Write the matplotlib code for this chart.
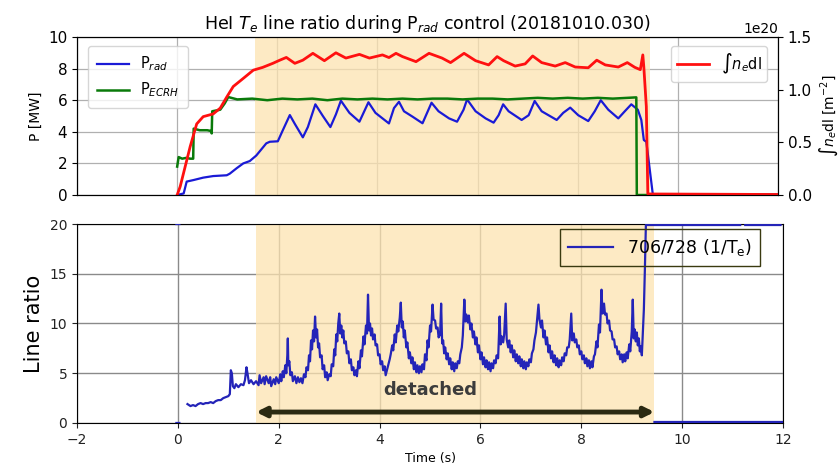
import numpy as np
import matplotlib
matplotlib.use("Agg")
import matplotlib.pyplot as plt

# --- top panel: radiated / heating power [MW] and line-integrated density [1e20 m^-2]
prad_t = [0.0, 0.13, 0.19, 0.33, 0.52, 0.72, 0.99, 1.05, 1.19, 1.32, 1.45, 1.58, 1.78, 1.85,
          2.01, 2.11, 2.25, 2.35, 2.51, 2.61, 2.76, 2.91, 3.06, 3.17, 3.27, 3.44, 3.64, 3.82, 3.96,
          4.23, 4.33, 4.43, 4.53, 4.70, 4.90, 5.08, 5.22, 5.43, 5.59, 5.72, 5.79, 5.96, 6.16, 6.32,
          6.42, 6.51, 6.62, 6.88, 7.02, 7.14, 7.28, 7.58, 7.71, 7.85, 8.01, 8.21, 8.34, 8.46, 8.61,
          8.81, 8.94, 9.07, 9.20, 9.27, 9.32, 9.37, 9.50, 12.0]
prad_v = [0.0, 0.1, 0.85, 0.95, 1.1, 1.2, 1.25, 1.35, 1.7, 2.0, 2.15, 2.5, 3.27, 3.37,
          3.4, 4.1, 5.06, 4.5, 3.65, 4.3, 5.74, 5.0, 4.3, 5.1, 5.97, 5.2, 4.64, 5.87, 5.2,
          4.53, 5.5, 5.9, 5.3, 4.96, 4.54, 5.84, 5.3, 4.85, 4.64, 5.4, 6.05, 5.3, 4.85, 4.58,
          5.05, 5.74, 5.3, 4.75, 5.05, 5.95, 5.3, 4.75, 5.2, 5.53, 5.05, 4.68, 5.3, 6.0, 5.4,
          4.85, 5.3, 5.74, 5.4, 4.75, 3.48, 3.37, 0.03, 0.03]

pecrh_t = [0.0, 0.03, 0.10, 0.18, 0.26, 0.32, 0.33, 0.45, 0.60, 0.68, 0.69, 0.70, 0.78, 0.86, 0.95,
           1.02, 1.20, 1.50, 1.80, 2.10, 2.40, 2.70, 3.00, 3.30, 3.60, 3.90, 4.20, 4.50, 4.80,
           5.10, 5.40, 5.70, 6.00, 6.30, 6.60, 6.90, 7.20, 7.50, 7.80, 8.10, 8.40, 8.70, 9.00,
           9.17, 9.18, 12.0]
pecrh_v = [1.8, 2.4, 2.3, 2.35, 2.3, 2.3, 4.2, 4.1, 4.1, 4.05, 3.9, 5.3, 5.35, 5.4, 5.8,
           6.2, 6.05, 6.1, 6.0, 6.1, 6.05, 6.1, 6.0, 6.1, 6.05, 6.1, 6.05, 6.1, 6.05,
           6.1, 6.1, 6.05, 6.1, 6.1, 6.05, 6.1, 6.15, 6.1, 6.15, 6.1, 6.15, 6.1, 6.15,
           6.18, 0.0, 0.0]

ne_t = [0.0, 0.06, 0.16, 0.26, 0.39, 0.52, 0.72, 0.86, 0.99, 1.12, 1.32, 1.52, 1.71, 1.91,
        2.05, 2.18, 2.35, 2.51, 2.71, 2.94, 3.17, 3.37, 3.64, 3.84, 4.10, 4.23, 4.37, 4.50,
        4.77, 5.03, 5.29, 5.46, 5.73, 5.96, 6.22, 6.39, 6.52, 6.75, 6.95, 7.10, 7.28, 7.55,
        7.75, 7.95, 8.21, 8.38, 8.55, 8.81, 8.99, 9.14, 9.25, 9.30, 9.32, 9.37, 9.40, 12.0]
ne_v = [0.0, 0.08, 0.27, 0.46, 0.675, 0.744, 0.77, 0.825, 0.93, 1.03, 1.107, 1.185, 1.212, 1.25,
        1.28, 1.306, 1.25, 1.28, 1.345, 1.275, 1.35, 1.30, 1.335, 1.30, 1.33, 1.305, 1.345, 1.314,
        1.266, 1.345, 1.30, 1.257, 1.345, 1.275, 1.235, 1.314, 1.275, 1.224, 1.245, 1.32, 1.257, 1.224,
        1.257, 1.215, 1.208, 1.28, 1.235, 1.215, 1.257, 1.212, 1.19, 1.33, 1.215, 0.84, 0.01, 0.005]

# --- bottom panel: HeI 706/728 line ratio (nan = gap)
ratio_t = [-0.03, 0.03, np.nan, -0.03, 0.03, np.nan,
           0.19, 0.25, 0.30, 0.35, 0.40, 0.45, 0.50, 0.55, 0.60, 0.65, 0.70, 0.75, 0.80, 0.85,
           0.90, 0.95, 1.00, 1.03, 1.05, 1.07, 1.09, 1.12, 1.15, 1.20, 1.25, 1.30, 1.33, 1.36,
           1.38, 1.41, 1.45, 1.50, 1.55,
           1.60, 1.62, 1.65, 1.70, 1.72, 1.75, 1.80, 1.83, 1.85, 1.90, 1.93, 1.95, 2.00, 2.03,
           2.05, 2.08, 2.10, 2.13, 2.15, 2.17, 2.18, 2.19, 2.21, 2.23, 2.26, 2.28, 2.32, 2.35,
           2.38, 2.41, 2.44, 2.47, 2.50, 2.53, 2.55, 2.58, 2.60, 2.62, 2.64, 2.66, 2.68, 2.70,
           2.72, 2.74, 2.76, 2.78, 2.80, 2.82, 2.85, 2.87, 2.90, 2.92, 2.95, 2.97,
           3.00, 3.03, 3.05, 3.08, 3.10, 3.12, 3.14, 3.16, 3.18, 3.20, 3.22, 3.24, 3.26, 3.28,
           3.30, 3.33, 3.35, 3.38, 3.40, 3.43, 3.45, 3.48, 3.50, 3.53, 3.55, 3.58, 3.60, 3.63,
           3.65, 3.68, 3.70, 3.73, 3.75, 3.77, 3.79, 3.81, 3.83, 3.85, 3.87, 3.90, 3.92, 3.95, 3.97,
           4.00, 4.02, 4.05, 4.07, 4.10, 4.12, 4.15, 4.17, 4.20, 4.22, 4.25, 4.27, 4.30, 4.32,
           4.35, 4.37, 4.40, 4.42, 4.44, 4.46, 4.48, 4.50, 4.53, 4.55, 4.58, 4.60, 4.63, 4.65,
           4.68, 4.70, 4.73, 4.75, 4.78, 4.80, 4.83, 4.85, 4.88, 4.90, 4.93, 4.95, 4.97,
           5.00, 5.02, 5.05, 5.07, 5.10, 5.12, 5.15, 5.17, 5.20, 5.22, 5.24, 5.26, 5.28, 5.30,
           5.33, 5.35, 5.38, 5.40, 5.43, 5.45, 5.48, 5.50, 5.53, 5.55, 5.58, 5.60, 5.63, 5.65,
           5.68, 5.70, 5.72, 5.75, 5.77, 5.80, 5.82, 5.85, 5.87, 5.90, 5.92, 5.95, 5.97,
           6.00, 6.02, 6.05, 6.07, 6.10, 6.12, 6.15, 6.17, 6.20, 6.22, 6.25, 6.27, 6.30, 6.32,
           6.35, 6.38, 6.40, 6.42, 6.45, 6.47, 6.50, 6.52, 6.55, 6.57, 6.60, 6.62, 6.65, 6.67,
           6.70, 6.72, 6.75, 6.77, 6.80, 6.82, 6.85, 6.87, 6.90, 6.92, 6.95, 6.97,
           7.00, 7.02, 7.05, 7.07, 7.10, 7.12, 7.15, 7.17, 7.20, 7.22, 7.25, 7.27, 7.30, 7.32,
           7.35, 7.37, 7.40, 7.42, 7.45, 7.47, 7.50, 7.52, 7.55, 7.57, 7.60, 7.62, 7.65, 7.67,
           7.70, 7.72, 7.75, 7.77, 7.80, 7.82, 7.85, 7.87, 7.90, 7.92, 7.95, 7.97,
           8.00, 8.02, 8.05, 8.07, 8.10, 8.12, 8.15, 8.17, 8.20, 8.22, 8.25, 8.27, 8.30, 8.32,
           8.35, 8.37, 8.40, 8.42, 8.45, 8.47, 8.50, 8.52, 8.55, 8.57, 8.60, 8.62, 8.65, 8.67,
           8.70, 8.72, 8.75, 8.77, 8.80, 8.82, 8.85, 8.87, 8.90, 8.92, 8.95, 8.97,
           9.00, 9.02, 9.04, 9.06, 9.08, 9.10, 9.12, 9.14, 9.16, 9.18, 9.20, 9.22, 9.24, 9.26,
           9.28, 11.15, np.nan, 11.25, 11.95, np.nan, 9.45, 12.0]
ratio_v = [20.0, 20.0, np.nan, 0.0, 0.0, np.nan,
           1.9, 1.7, 1.8, 1.7, 1.9, 2.0, 1.9, 2.0, 2.0, 2.1, 2.0, 2.2, 2.3, 2.3,
           2.5, 2.6, 2.7, 2.9, 5.3, 5.0, 3.7, 3.5, 3.9, 3.6, 3.9, 3.8, 4.3, 5.6,
           5.0, 4.0, 4.3, 3.9, 4.2,
           3.8, 4.8, 4.0, 4.6, 3.9, 4.7, 4.0, 4.6, 3.7, 4.4, 3.9, 4.6, 4.0, 4.9,
           4.2, 5.2, 4.6, 5.8, 5.0, 6.8, 8.5, 5.8, 6.2, 4.8, 5.1, 4.2, 4.7, 4.0,
           4.6, 4.1, 4.5, 4.0, 4.9, 4.6, 5.6, 5.3, 6.8, 6.2, 8.3, 7.4, 9.3, 8.2,
           10.7, 8.6, 9.4, 7.6, 8.0, 6.6, 6.8, 5.4, 5.8, 4.6, 5.1, 4.3,
           4.9, 4.7, 5.9, 5.7, 7.4, 6.8, 8.9, 8.2, 10.0, 11.0, 9.0, 9.8, 8.6, 9.3,
           8.0, 8.2, 7.0, 7.2, 6.0, 6.4, 5.3, 5.6, 4.8, 5.3, 4.7, 6.2, 5.5, 7.3,
           6.7, 8.7, 7.9, 9.8, 9.0, 12.9, 9.3, 10.0, 8.8, 9.5, 8.4, 8.9, 7.8, 7.9, 6.8,
           6.9, 5.9, 6.2, 5.3, 5.7, 4.8, 5.4, 5.8, 6.4, 6.9, 7.8, 7.3, 8.9, 8.1,
           9.8, 9.2, 10.6, 12.1, 9.6, 10.2, 8.6, 9.3, 7.6, 8.1, 6.5, 7.1, 6.0, 6.6,
           5.4, 6.1, 5.1, 5.8, 5.0, 5.7, 5.1, 5.9, 5.4, 6.9, 6.3, 8.3, 7.6,
           9.8, 9.2, 11.9, 10.4, 10.3, 9.5, 9.6, 8.6, 8.9, 12.0, 8.0, 8.3, 7.0, 7.6,
           6.4, 7.0, 5.9, 6.5, 5.4, 6.1, 5.2, 6.0, 5.5, 6.2, 6.0, 6.9, 7.6, 8.8,
           12.4, 10.2, 10.9, 10.1, 10.8, 9.4, 10.0, 8.6, 9.2, 7.9, 8.6, 7.1, 7.8,
           6.4, 7.1, 5.9, 6.6, 5.6, 6.3, 5.4, 6.1, 5.2, 6.0, 5.5, 6.3, 6.0, 6.8,
           6.5, 10.7, 7.9, 8.7, 8.1, 8.9, 12.0, 8.4, 7.6, 8.3, 7.1, 7.8, 6.6, 7.3,
           6.2, 6.9, 6.0, 6.7, 5.7, 6.4, 5.5, 6.2, 5.4, 6.1, 5.7, 6.4,
           6.1, 7.0, 7.4, 8.3, 9.1, 10.2, 11.9, 10.4, 9.6, 10.3, 8.6, 9.3, 7.9, 8.6,
           7.1, 7.8, 6.5, 7.2, 6.1, 6.8, 5.8, 6.5, 5.6, 6.3, 5.8, 6.6, 6.2, 7.0,
           6.8, 7.6, 7.6, 8.4, 11.0, 8.3, 9.0, 8.1, 8.4, 7.6, 7.8, 6.9,
           7.2, 6.4, 6.8, 6.0, 6.5, 5.7, 6.3, 5.5, 6.2, 5.6, 6.7, 6.9, 8.2, 7.6,
           9.9, 9.1, 13.4, 11.0, 12.0, 10.9, 11.0, 10.0, 10.3, 9.3, 9.2, 8.4, 8.4, 7.6,
           7.7, 6.9, 7.2, 6.4, 6.9, 6.1, 6.9, 6.2, 7.1, 6.5, 7.9, 7.2,
           9.2, 12.4, 8.5, 9.4, 8.2, 9.1, 7.8, 8.5, 7.2, 7.7, 6.8, 9.0, 11.4, 15.4,
           19.9, 19.9, np.nan, 19.9, 19.9, np.nan, 0.1, 0.1]

detached = (1.55, 9.45)
span_color = '#fde3b0'

fig = plt.figure(figsize=(8.4, 4.66), dpi=100)
ax1 = fig.add_axes([0.0917, 0.5815, 0.8345, 0.3391])
ax2 = fig.add_axes([0.0917, 0.0923, 0.8405, 0.4270])

# top panel
ax1.axvspan(*detached, color=span_color, alpha=0.75, lw=0, zorder=1.6)
lp, = ax1.plot(prad_t, prad_v, color='#1a1ad6', lw=1.6, label='P$_{rad}$', zorder=3)
le, = ax1.plot(pecrh_t, pecrh_v, color='#0a7a0a', lw=1.8, label='P$_{ECRH}$', zorder=3)
ax1.set_xlim(-2, 12)
ax1.set_ylim(0, 10)
ax1.set_yticks([0, 2, 4, 6, 8, 10])
ax1.set_xticks(range(-2, 13, 2))
ax1.tick_params(axis='x', labelbottom=False, length=0)
ax1.tick_params(axis='y', labelsize=11)
ax1.grid(True, color='#b0b0b0', lw=0.9)
ax1.set_ylabel('P [MW]', fontsize=10)
ax1.set_title('HeI $T_e$ line ratio during P$_{rad}$ control (20181010.030)', fontsize=12.5, pad=6)
ax1.legend(handles=[lp, le], loc='upper left', fontsize=10.5, handlelength=2.2,
           bbox_to_anchor=(0.005, 0.99), borderpad=0.6)

ax1r = ax1.twinx()
ln, = ax1r.plot(ne_t, np.array(ne_v) * 1e20, color='#ff1010', lw=2.0, label=r'$\int n_e$dl')
ax1r.set_ylim(0, 1.5e20)
ax1r.set_yticks([0, 0.5e20, 1.0e20, 1.5e20])
ax1r.tick_params(axis='y', labelsize=11)
ax1r.set_ylabel(r'$\int n_e$dl [m$^{-2}$]', fontsize=10)
ax1r.legend(handles=[ln], loc='upper right', fontsize=10.5, handlelength=2.2,
            bbox_to_anchor=(0.995, 0.99))

# bottom panel
ax2.axvspan(*detached, color=span_color, alpha=0.75, lw=0, zorder=1.6)
lr, = ax2.plot(ratio_t, ratio_v, color='#2424b8', lw=1.6, label='706/728 (1/T$_\\mathrm{e}$)', zorder=3)
ax2.set_xlim(-2, 12)
ax2.set_ylim(0, 20)
ax2.set_xticks(range(-2, 13, 2))
ax2.set_yticks([0, 5, 10, 15, 20])
ax2.tick_params(labelsize=10, colors='#222222')
ax2.grid(True, color='#8a8a8a', lw=1.0)
ax2.set_ylabel('Line ratio', fontsize=15)
ax2.set_xlabel('Time (s)', fontsize=9, labelpad=4)
leg = ax2.legend(handles=[lr], loc='upper right', bbox_to_anchor=(0.967, 0.975), fontsize=12.5,
                 fancybox=False, framealpha=1, facecolor='none', edgecolor='#3a3a10',
                 handlelength=2.6, borderpad=0.45, borderaxespad=0)
leg.get_frame().set_linewidth(1.0)

ax2.annotate('', xy=(detached[1], 1.1), xytext=(detached[0], 1.1),
             arrowprops=dict(arrowstyle='<|-|>', color='#2b2a12', lw=3.5,
                             mutation_scale=14, shrinkA=0, shrinkB=0), zorder=4)
ax2.text(5.0, 3.3, 'detached', fontsize=13, fontweight='bold', color='#3c3c3c',
         ha='center', va='center', zorder=4)

fig.savefig('out.png', dpi=100)
